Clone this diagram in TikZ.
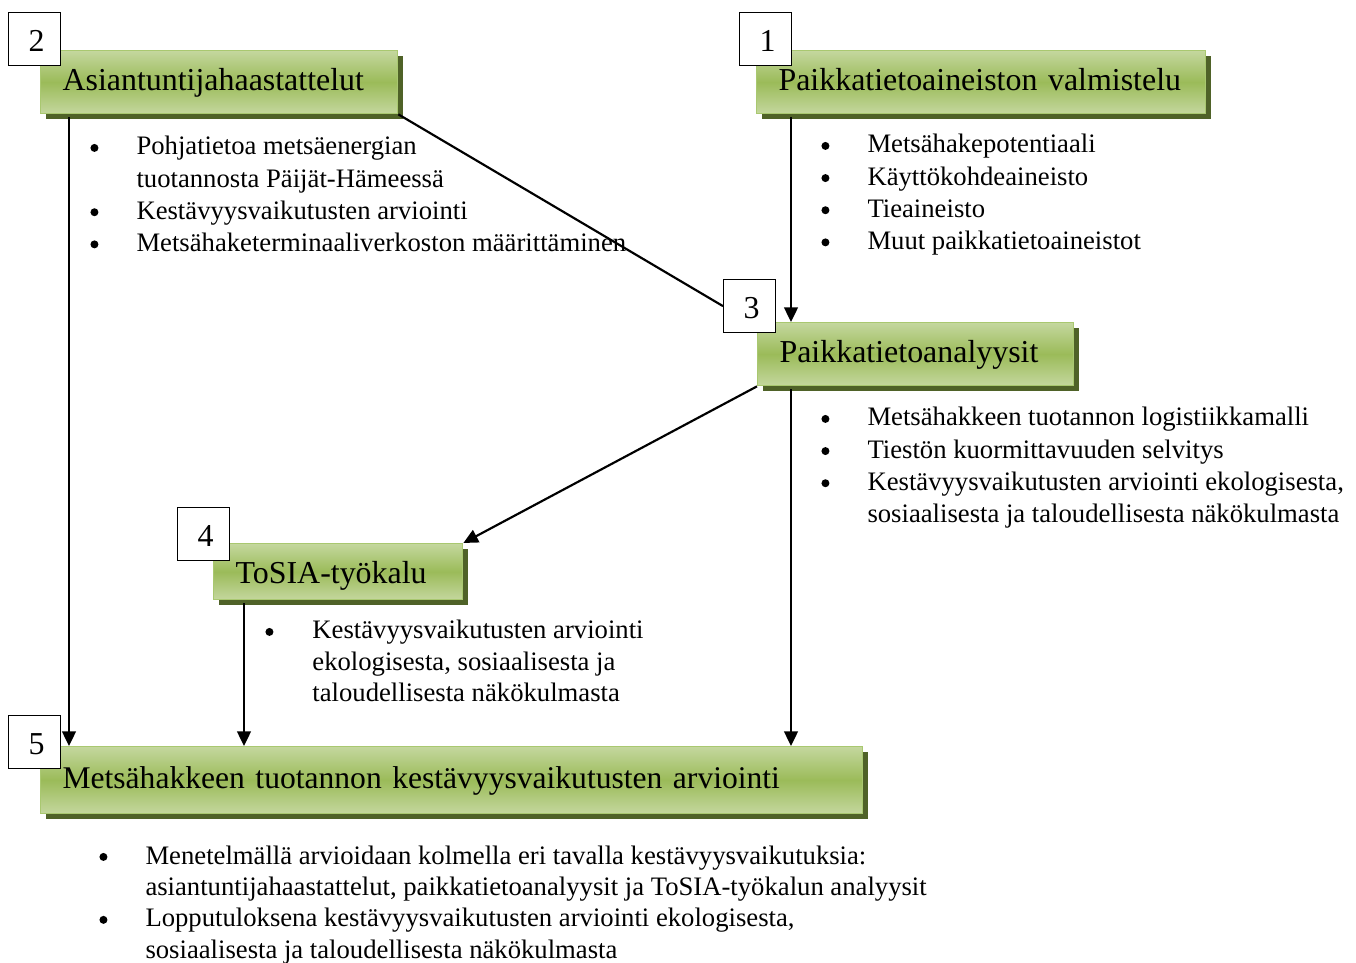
\documentclass[tikz,border=0pt]{standalone}
\usepackage{fontspec}
\setmainfont{Liberation Serif}
\usetikzlibrary{shadows,calc,arrows.meta}

\definecolor{gLight}{HTML}{C4D79E}
\definecolor{gMid}{HTML}{9BBB59}
\definecolor{gEdge}{HTML}{A9C870}
\definecolor{gShadow}{HTML}{4F6228}

\tikzset{
  stage/.style={
    anchor=north west, rectangle, draw=gEdge, line width=0.6pt,
    top color=gLight, bottom color=gLight, middle color=gMid,
    general shadow={fill=gShadow, shadow xshift=2.4pt, shadow yshift=-2.2pt},
    font=\fontsize{14}{16}\selectfont, align=left,
    inner xsep=9.6pt, inner ysep=0pt, text height=9.5pt, text depth=2.5pt},
  numbox/.style={
    anchor=north west, rectangle, draw=black, fill=white, line width=0.6pt,
    minimum width=22.8pt, minimum height=23.2pt, inner sep=0pt,
    text height=11.1pt, text depth=0pt,
    font=\fontsize{14}{16}\selectfont},
  itemlist/.style={anchor=base west, inner sep=0pt,
    font=\fontsize{11.7}{14.1}\selectfont},
  link/.style={line width=0.95pt, draw=black},
  arrow/.style={link, -{Triangle[length=6.4pt,width=6pt]}}
}
% round list bullet
\newcommand{\bu}{\tikz[baseline=-3.1pt]\fill (0,0) circle (1.75pt);}
\newenvironment{bul}[1]{\begin{tabular}[t]{@{}p{#1}@{}l@{}}}{\end{tabular}}
\newcommand{\num}[1]{\hspace*{1.6pt}#1}

\begin{document}
\begin{tikzpicture}[x=0.4386pt,y=-0.4386pt]
\useasboundingbox (0,0) rectangle (1356,963);

% stage boxes (x, y = top left corner; sizes in px units)
\node[stage, minimum width=357*0.4386pt, minimum height=63*0.4386pt,
      text width=357*0.4386pt-19.2pt] (b2) at (40,50) {Asiantuntijahaastattelut};
\node[stage, minimum width=449*0.4386pt, minimum height=63*0.4386pt,
      text width=449*0.4386pt-19.2pt] (b1) at (756,50) {Paikkatietoaineiston valmistelu};
\node[stage, minimum width=316*0.4386pt, minimum height=63*0.4386pt,
      text width=316*0.4386pt-19.2pt] (b3) at (757,322) {Paikkatietoanalyysit};
\node[stage, minimum width=249*0.4386pt, minimum height=56*0.4386pt,
      text width=249*0.4386pt-19.2pt, text height=13pt] (b4) at (213,543) {ToSIA-työkalu};
\node[stage, minimum width=822*0.4386pt, minimum height=67*0.4386pt,
      text width=822*0.4386pt-19.2pt, font=\fontsize{13.85}{16}\selectfont] (b5) at (40,746)
      {Metsähakkeen tuotannon kestävyysvaikutusten arviointi};

% numbered tags
\node[numbox] (n2) at (8,12) {\num{2}};
\node[numbox] (n1) at (739,12) {\num{1}};
\node[numbox] (n3) at (723,279) {\num{3}};
\node[numbox] (n4) at (177,507) {\num{4}};
\node[numbox] (n5) at (8,715) {\num{5}};

% connectors
\draw[arrow] ($(b2.south west)+(29,3)$) coordinate (c2) -- (c2 |- b5.north);
\draw[arrow] ($(b1.south west)+(35,3)$) coordinate (c1) -- (c1 |- b3.north);
\draw[arrow] ($(b3.south west)+(34,3)$) coordinate (c3) -- (c3 |- b5.north);
\draw[arrow] ($(b4.south west)+(31,3)$) coordinate (c4) -- (c4 |- b5.north);
\draw[link] (b2.south east) -- (n3.west);
\draw[arrow] (b3.south west) -- (b4.north east);

% item lists
\node[itemlist] (l2) at (90,155) {\begin{bul}{20.2pt}
  \bu & Pohjatietoa metsäenergian\\
      & tuotannosta Päijät-Hämeessä\\
  \bu & Kestävyysvaikutusten arviointi\\
  \bu & Metsähaketerminaaliverkoston määrittäminen
\end{bul}};
\node[itemlist] (l1) at (821,153) {\begin{bul}{20.2pt}
  \bu & Metsähakepotentiaali\\
  \bu & Käyttökohdeaineisto\\
  \bu & Tieaineisto\\
  \bu & Muut paikkatietoaineistot
\end{bul}};
\node[itemlist] (l3) at (821,426) {\begin{bul}{20.2pt}
  \bu & Metsähakkeen tuotannon logistiikkamalli\\
  \bu & Tiestön kuormittavuuden selvitys\\
  \bu & Kestävyysvaikutusten arviointi ekologisesta,\\
      & sosiaalisesta ja taloudellisesta näkökulmasta
\end{bul}};
\node[itemlist, font=\fontsize{11.7}{13.8}\selectfont] (l4) at (265,639) {\begin{bul}{20.6pt}
  \bu & Kestävyysvaikutusten arviointi\\
      & ekologisesta, sosiaalisesta ja\\
      & taloudellisesta näkökulmasta
\end{bul}};
\node[itemlist, font=\fontsize{11.7}{13.8}\selectfont] (l5) at (99,864) {\begin{bul}{20.2pt}
  \bu & Menetelmällä arvioidaan kolmella eri tavalla kestävyysvaikutuksia:\\
      & asiantuntijahaastattelut, paikkatietoanalyysit ja ToSIA-työkalun analyysit\\
  \bu & Lopputuloksena kestävyysvaikutusten arviointi ekologisesta,\\
      & sosiaalisesta ja taloudellisesta näkökulmasta
\end{bul}};
\end{tikzpicture}
\end{document}
